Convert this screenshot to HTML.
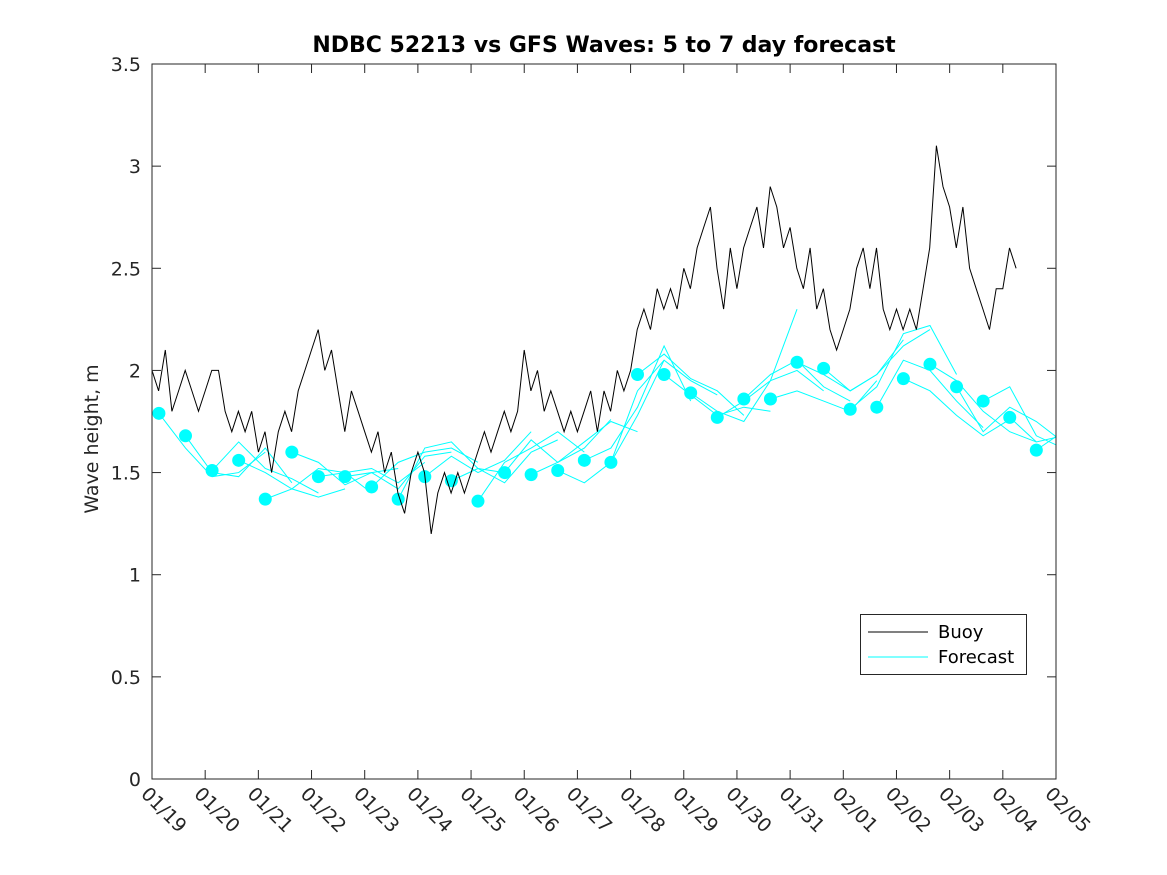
<!DOCTYPE html>
<html><head><meta charset="utf-8"><style>
body{margin:0;background:#fff}
svg{display:block;font-family:"DejaVu Sans","Liberation Sans",sans-serif}
</style></head><body>
<svg id="chart" width="1167" height="875">
<rect width="1167" height="875" fill="#fff"/>
<text x="604" y="52" text-anchor="middle" font-size="22" font-weight="bold" fill="#000">NDBC 52213 vs GFS Waves: 5 to 7 day forecast</text>
<text transform="translate(98,439) rotate(-90)" text-anchor="middle" font-size="19" fill="#262626">Wave height, m</text>
<defs><clipPath id="pc"><rect x="152" y="64" width="904" height="715"/></clipPath></defs>
<g id="axes"></g>
<g id="fc" clip-path="url(#pc)"></g>
<g id="buoy" clip-path="url(#pc)"></g>
<rect x="152" y="64" width="904" height="715" fill="none" stroke="#262626" stroke-width="1"/>
<g>
<rect x="860.5" y="614.5" width="166" height="60" fill="#fff" stroke="#262626"/>
<line x1="868" y1="632" x2="928" y2="632" stroke="#000"/>
<text x="938" y="638" font-size="18" fill="#000">Buoy</text>
<line x1="868" y1="657" x2="928" y2="657" stroke="#00ffff"/>
<text x="938" y="663" font-size="18" fill="#000">Forecast</text>
</g>
</svg>
<script>
const xTickLabels=["01/19","01/20","01/21","01/22","01/23","01/24","01/25","01/26","01/27","01/28","01/29","01/30","01/31","02/01","02/02","02/03","02/04","02/05"];
const yTicks=[0,0.5,1,1.5,2,2.5,3,3.5];
const yTickLabels=["0","0.5","1","1.5","2","2.5","3","3.5"];
const buoyStep=0.125;
const buoyValues=[
2.0,1.9,2.1,1.8,1.9,2.0,1.9,1.8,
1.9,2.0,2.0,1.8,1.7,1.8,1.7,1.8,
1.6,1.7,1.5,1.7,1.8,1.7,1.9,2.0,
2.1,2.2,2.0,2.1,1.9,1.7,1.9,1.8,
1.7,1.6,1.7,1.5,1.6,1.4,1.3,1.5,
1.6,1.5,1.2,1.4,1.5,1.4,1.5,1.4,
1.5,1.6,1.7,1.6,1.7,1.8,1.7,1.8,
2.1,1.9,2.0,1.8,1.9,1.8,1.7,1.8,
1.7,1.8,1.9,1.7,1.9,1.8,2.0,1.9,
2.0,2.2,2.3,2.2,2.4,2.3,2.4,2.3,
2.5,2.4,2.6,2.7,2.8,2.5,2.3,2.6,
2.4,2.6,2.7,2.8,2.6,2.9,2.8,2.6,
2.7,2.5,2.4,2.6,2.3,2.4,2.2,2.1,
2.2,2.3,2.5,2.6,2.4,2.6,2.3,2.2,
2.3,2.2,2.3,2.2,2.4,2.6,3.1,2.9,
2.8,2.6,2.8,2.5,2.4,2.3,2.2,2.4,
2.4,2.6,2.5];
const dotDays=[0.13,0.63,1.13,1.63,2.13,2.63,3.13,3.63,4.13,4.63,5.13,5.63,6.13,6.63,7.13,7.63,8.13,8.63,9.13,9.63,10.13,10.63,11.13,11.63,12.13,12.63,13.13,13.63,14.13,14.63,15.13,15.63,16.13,16.63];
const forecastStep=0.5;
const forecastRuns=[
[1.79,1.62,1.48,1.50,1.60],
[1.68,1.50,1.48,1.62,1.45],
[1.51,1.65,1.52,1.47,1.40],
[1.56,1.50,1.42,1.38,1.42],
[1.37,1.42,1.52,1.50,1.40],
[1.60,1.55,1.44,1.50,1.52],
[1.48,1.50,1.52,1.45,1.55],
[1.48,1.50,1.42,1.58,1.60],
[1.43,1.55,1.60,1.62,1.55],
[1.37,1.62,1.65,1.52,1.50],
[1.48,1.58,1.50,1.56,1.70],
[1.46,1.52,1.45,1.60,1.66],
[1.36,1.55,1.62,1.70,1.60],
[1.50,1.66,1.55,1.62,1.76],
[1.49,1.55,1.65,1.75,1.70],
[1.51,1.45,1.55,1.78,2.05],
[1.56,1.62,1.82,2.12,1.85],
[1.55,1.90,2.05,1.95,1.88],
[1.98,2.08,1.96,1.90,1.78],
[1.98,1.88,1.78,1.82,1.80],
[1.89,1.80,1.75,1.95,2.30],
[1.77,1.85,1.95,2.00,1.90],
[1.86,1.98,2.05,1.92,1.85],
[1.86,1.90,1.85,1.80,1.95],
[2.04,1.98,1.90,1.98,2.15],
[2.01,1.90,1.98,2.12,2.20],
[1.81,1.92,2.18,2.22,1.98],
[1.82,2.05,2.00,1.85,1.72],
[1.96,1.90,1.78,1.68,1.76],
[2.03,1.95,1.80,1.70,1.65],
[1.92,1.70,1.82,1.75,1.65],
[1.85,1.92,1.68,1.62,1.70],
[1.77,1.65,1.68,1.70,1.62],
[1.61,1.70,1.65,1.72,1.70]];
const X0=152,X1=1056,Y0=779,Y1=64,DAYS=17,YMAX=3.5;
const xs=d=>X0+(X1-X0)*d/DAYS;
const ys=v=>Y0-(Y0-Y1)*v/YMAX;
const NS="http://www.w3.org/2000/svg";
function mk(tag,attrs,parent){const e=document.createElementNS(NS,tag);for(const k in attrs)e.setAttribute(k,attrs[k]);parent.appendChild(e);return e;}
const axes=document.getElementById('axes');
xTickLabels.forEach((lab,i)=>{
  const x=xs(i);
  const t1=mk('line',{x1:x,y1:Y0,x2:x,y2:Y0-9,stroke:'#262626'},axes);
  
  
  const t2=mk('line',{x1:x,y1:Y1,x2:x,y2:Y1+9,stroke:'#262626'},axes);
  
  
  const tx=mk('text',{x:0,y:0,'font-size':19,fill:'#262626',transform:`translate(${x-12},${795}) rotate(45)`},axes);
  tx.textContent=lab;
  
  
});
yTicks.forEach((v,i)=>{
  const y=ys(v);
  const t1=mk('line',{x1:X0,y1:y,x2:X0+9,y2:y,stroke:'#262626'},axes);
  
  
  const t2=mk('line',{x1:X1,y1:y,x2:X1-9,y2:y,stroke:'#262626'},axes);
  
  
  const tx=mk('text',{x:141,y:y+7,'font-size':19,fill:'#262626','text-anchor':'end'},axes);
  tx.textContent=yTickLabels[i];
  
  
});
const fc=document.getElementById('fc');
forecastRuns.forEach((run,k)=>{
  const pts=run.map((v,j)=>xs(dotDays[k]+j*forecastStep)+','+ys(v)).join(' ');
  const pl=mk('polyline',{points:pts,fill:'none',stroke:'#00ffff','stroke-width':1},fc);
  
  
});
forecastRuns.forEach((run,k)=>{
  const c=mk('circle',{cx:xs(dotDays[k]),cy:ys(run[0]),r:6.5,fill:'#00ffff'},fc);
  
  
});
const bg=document.getElementById('buoy');
let d='';
buoyValues.forEach((v,i)=>{const x=xs(i*buoyStep),y=ys(v);d+=(i?'L':'M')+x.toFixed(1)+','+y.toFixed(1);});
const bp=mk('path',{d:d,fill:'none',stroke:'#000','stroke-width':1},bg);


</script>
</body></html>
